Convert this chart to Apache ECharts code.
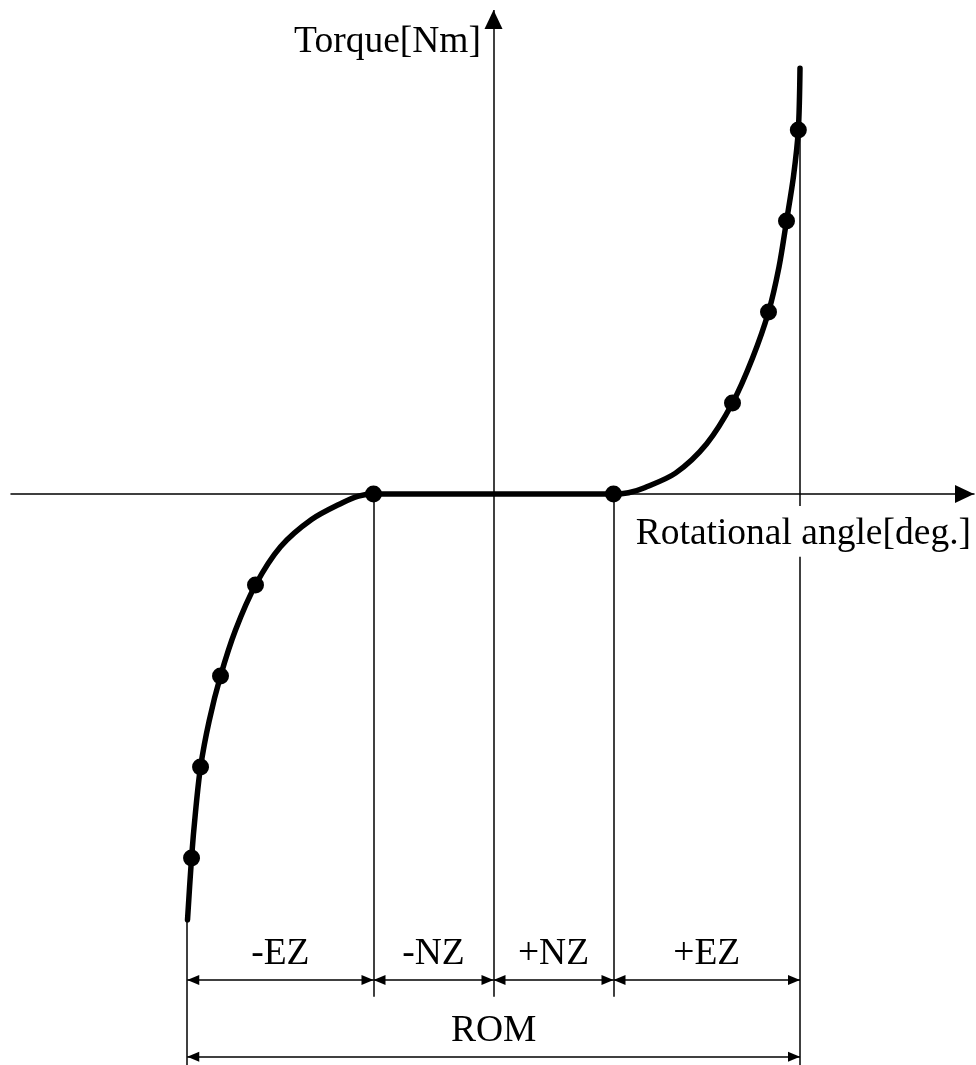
<!DOCTYPE html>
<html><head><meta charset="utf-8">
<script src="https://cdn.jsdelivr.net/npm/echarts@6/dist/echarts.min.js"></script>
<style>html,body{margin:0;padding:0;background:#fff}#c{width:976px;height:1065px}</style>
</head><body><div id="c"></div>
<script>
// ---- data (angle in deg, torque in Nm) ----
const curvePoints = [
  [-51.0, -9.36], [-50.33, -8.0], [-49.67, -6.99], [-48.83, -6.0], [-47.4, -4.99],
  [-45.5, -4.0], [-43.0, -2.99], [-39.67, -2.0], [-35.5, -1.16], [-30.33, -0.56],
  [-25.17, -0.19], [-22.5, -0.044], [-20, 0],
  [-10, 0], [0, 0], [10, 0], [20, 0],
  [22.5, 0.03], [25.17, 0.14], [30.33, 0.46], [35.5, 1.1], [39.83, 2.0],
  [43.17, 2.99], [45.83, 4.0], [47.58, 4.99], [48.83, 6.0], [50.0, 6.99],
  [50.8, 8.0], [51.08, 9.36]
];
const markerPoints = [
  [-50.33, -8.0], [-48.83, -6.0], [-45.5, -4.0], [-39.67, -2.0], [-20, 0],
  [20, 0], [39.83, 2.0], [45.83, 4.0], [48.83, 6.0], [50.8, 8.0]
];
const zoneBounds = [-51.05, -20, 0, 20, 51.08];
const zoneLabels = ['-EZ', '-NZ', '+NZ', '+EZ'];
const romLabel = 'ROM';
const curveEndTorque = [-9.36, 9.36];
const xTitle = 'Rotational angle[deg.]';
const yTitle = 'Torque[Nm]';
const X_MIN = -80.42, X_MAX = 80.08;
const Y_MIN = -12.55, Y_MAX = 10.64;
const Y_AXIS_BOTTOM = -11.05;
const ZONE_DIM_Y = -10.68;
const ROM_DIM_Y = -12.37;
const TITLE_GAP = [-0.26, -1.38];

// ---- styles ----
const FONT = '"Liberation Serif", "Times New Roman", serif';
const AXIS_ARROW = 'path://M9,0 M9,19 L18,38 L0,38 Z';
const DIM_ARROW = 'path://M5,0 M5,12 L10,24 L0,24 Z';
const DIM_SIZE = [10, 24];
const thin = { color: '#000', width: 1.5, type: 'solid' };

const guideLines = [
  [{ coord: [zoneBounds[0], curveEndTorque[0]] }, { coord: [zoneBounds[0], Y_MIN] }],
  [{ coord: [zoneBounds[1], 0] }, { coord: [zoneBounds[1], Y_AXIS_BOTTOM] }],
  [{ coord: [zoneBounds[3], 0] }, { coord: [zoneBounds[3], Y_AXIS_BOTTOM] }],
  [{ coord: [zoneBounds[4], curveEndTorque[1]] }, { coord: [zoneBounds[4], TITLE_GAP[0]] }],
  [{ coord: [zoneBounds[4], TITLE_GAP[1]] }, { coord: [zoneBounds[4], Y_MIN] }],
  [{ coord: [0, Y_AXIS_BOTTOM] }, { coord: [0, Y_MAX], symbol: AXIS_ARROW, symbolSize: [18, 38] }]
];

function dimPair(x0, x1, y, name) {
  return [
    { coord: [x0, y], name: name, symbol: DIM_ARROW, symbolSize: DIM_SIZE },
    { coord: [x1, y], symbol: DIM_ARROW, symbolSize: DIM_SIZE }
  ];
}
const dimLines = [];
for (let i = 0; i < zoneLabels.length; i++) {
  dimLines.push(dimPair(zoneBounds[i], zoneBounds[i + 1], ZONE_DIM_Y, zoneLabels[i]));
}
dimLines.push(dimPair(zoneBounds[0], zoneBounds[4], ROM_DIM_Y, romLabel));

const chart = echarts.init(document.getElementById('c'), null, { renderer: 'canvas' });
chart.setOption({
  animation: false,
  backgroundColor: '#fff',
  textStyle: { fontFamily: FONT },
  grid: { left: 11, right: 2, top: 10, bottom: 0, containLabel: false },
  xAxis: {
    type: 'value', min: X_MIN, max: X_MAX,
    axisLine: { show: true, onZero: true, symbol: ['none', AXIS_ARROW], symbolSize: [18, 38], lineStyle: thin },
    axisTick: { show: false }, axisLabel: { show: false }, splitLine: { show: false }
  },
  yAxis: {
    type: 'value', min: Y_MIN, max: Y_MAX,
    axisLine: { show: false },
    axisTick: { show: false }, axisLabel: { show: false }, splitLine: { show: false }
  },
  graphic: [
    { type: 'text', x: 481, y: 42.5, z: 10,
      style: { x: 0, y: 0, text: yTitle, font: '37.5px ' + FONT, fill: '#000',
               align: 'right', textAlign: 'right', verticalAlign: 'middle', textVerticalAlign: 'middle' } },
    { type: 'text', x: 971, y: 534.5, z: 10,
      style: { x: 0, y: 0, text: xTitle, font: '37.5px ' + FONT, fill: '#000',
               align: 'right', textAlign: 'right', verticalAlign: 'middle', textVerticalAlign: 'middle' } }
  ],
  series: [
    {
      type: 'line', data: [], z: 1, silent: true,
      markLine: {
        silent: true, animation: false, symbol: 'none',
        label: { show: false }, emphasis: { disabled: true },
        lineStyle: thin, data: guideLines
      }
    },
    {
      type: 'line', data: [], z: 1, silent: true,
      markLine: {
        silent: true, animation: false,
        symbol: [DIM_ARROW, DIM_ARROW], symbolSize: 10,
        emphasis: { disabled: true },
        label: { show: true, position: 'middle', distance: 7, formatter: p => p.name,
                 fontSize: 37.5, fontFamily: FONT, color: '#000' },
        lineStyle: thin, data: dimLines
      }
    },
    {
      type: 'line', data: curvePoints, smooth: 0.3, symbol: 'none', z: 3, silent: true,
      lineStyle: { color: '#000', width: 5.5, cap: 'round', join: 'round' }
    },
    {
      type: 'scatter', data: markerPoints, symbol: 'circle', symbolSize: 17, z: 4, silent: true,
      itemStyle: { color: '#000', opacity: 1 }
    }
  ]
});
</script></body></html>
